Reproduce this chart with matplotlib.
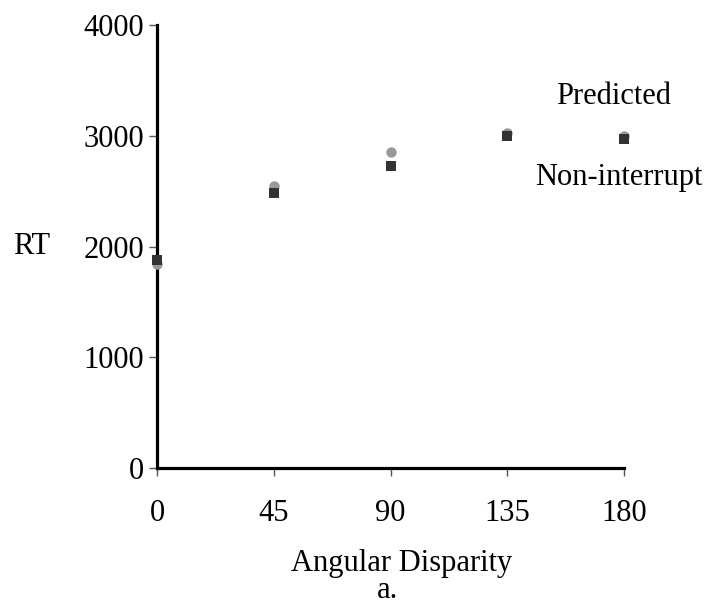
import matplotlib
matplotlib.use("Agg")
import matplotlib.pyplot as plt

angles = [0, 45, 90, 135, 180]
predicted = [1845, 2545, 2855, 3025, 3000]
non_interrupt = [1880, 2485, 2730, 3000, 2970]
x_ticks = [0, 45, 90, 135, 180]
y_ticks = [0, 1000, 2000, 3000, 4000]

plt.rcParams['font.family'] = ['Liberation Serif', 'DejaVu Serif']
fs = 22

W, H = 707, 613
fig = plt.figure(figsize=(W / 100, H / 100), dpi=100)
left, right, top, bottom = 157, 624, 25, 468
ax = fig.add_axes([left / W, 1 - bottom / H, (right - left) / W, (bottom - top) / H])
ax.plot(angles, predicted, 'o', color='#999999', markersize=7.5, markeredgewidth=0,
        clip_on=False, zorder=3)
ax.plot(angles, non_interrupt, 's', color='#333333', markersize=7.8, markeredgewidth=0,
        clip_on=False, zorder=4)
ax.set_xlim(0, 180)
ax.set_ylim(0, 4000)
ax.set_xticks(x_ticks)
ax.set_yticks(y_ticks)
ax.tick_params(axis='both', labelsize=fs, length=6, width=1, color='#555555')
ax.tick_params(axis='x', pad=16)
ax.tick_params(axis='y', pad=3)
for s in ['top', 'right']:
    ax.spines[s].set_visible(False)
for s in ['left', 'bottom']:
    ax.spines[s].set_linewidth(2.3)
ax.text(614 / W, 1 - 97 / H, 'Predicted', fontsize=fs, ha='center', va='center',
        transform=fig.transFigure)
ax.text(619 / W, 1 - 178 / H, 'Non-interrupt', fontsize=fs, ha='center', va='center',
        transform=fig.transFigure)
fig.text(32 / W, 1 - 247 / H, 'RT', fontsize=fs, ha='center', va='center')
fig.text(402 / W, 1 - 563 / H, 'Angular Disparity', fontsize=fs, ha='center', va='center')
fig.text(388 / W, 1 - 591 / H, 'a.', fontsize=fs, ha='center', va='center')
fig.savefig('out.png', dpi=100)
